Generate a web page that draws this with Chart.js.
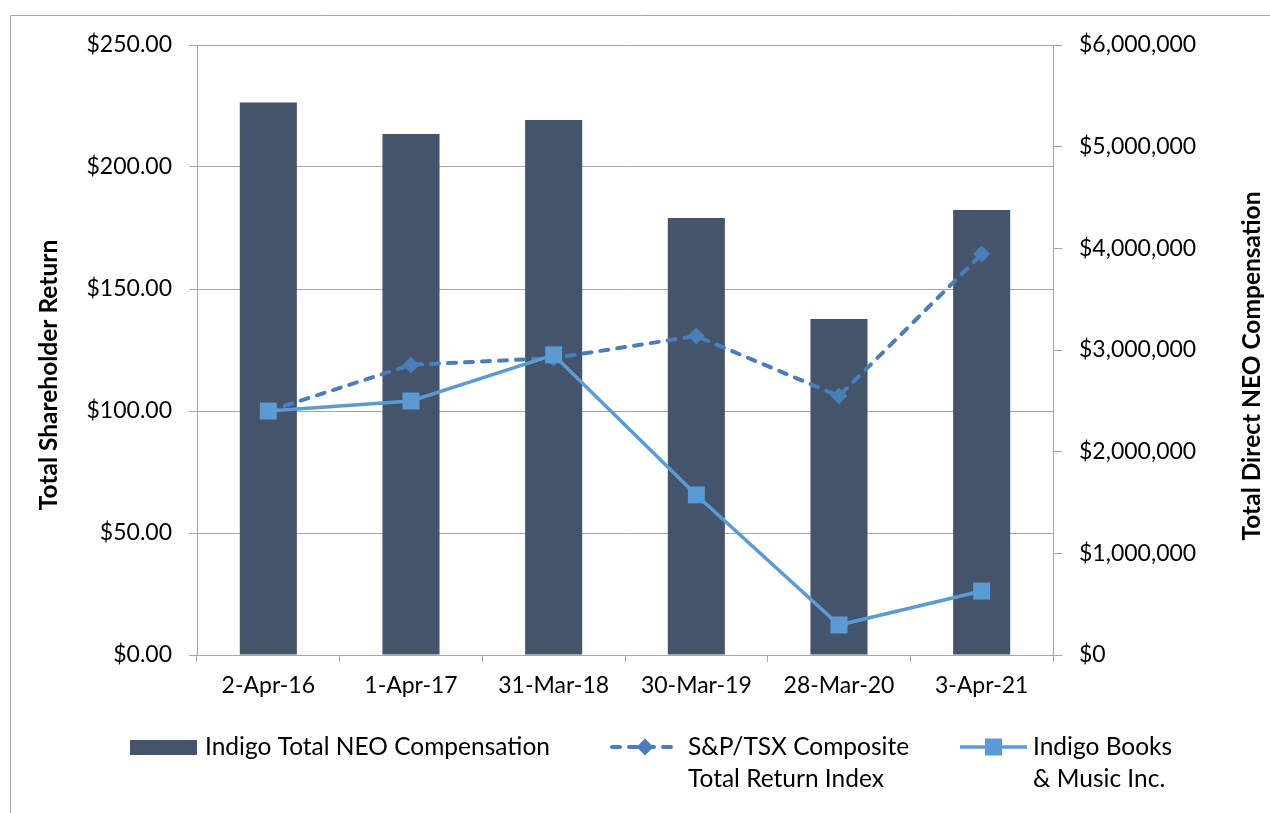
<!DOCTYPE html>
<html>
<head>
<meta charset="utf-8">
<style>
  html, body { margin: 0; padding: 0; background: #fff; }
  #wrap { width: 1270px; height: 813px; position: relative; }
</style>
<script src="https://cdn.jsdelivr.net/npm/chart.js@4.4.0/dist/chart.umd.min.js"></script>
</head>
<body>
<div id="wrap"><canvas id="tsrChart" width="1270" height="813"></canvas></div>
<script>
// data
const dates = ['2-Apr-16', '1-Apr-17', '31-Mar-18', '30-Mar-19', '28-Mar-20', '3-Apr-21'];
const neoComp = [5435000, 5125000, 5262000, 4298000, 3305000, 4378000];
const spTsx = [100, 118.9, 121.7, 130.7, 106.1, 164.3];
const indigo = [100, 104.1, 123.0, 65.6, 12.3, 26.2];

const leftTicks = { min: 0, max: 250, step: 50 };
const rightTicks = { min: 0, max: 6000000, step: 1000000 };

const FONT = 'Lato, "Open Sans", sans-serif';
const BAR_COLOR = '#44546A';
const SP_COLOR = '#4A7EBB';
const IND_COLOR = '#5B9BD5';
const GRID = '#A6A6A6';

// titles, legend and outer frame drawn by hand
const extras = {
    id: 'extras',
    afterDraw(chart) {
        const ctx = chart.ctx;
        ctx.save();

        // outer frame (top + left only visible)
        ctx.strokeStyle = GRID;
        ctx.lineWidth = 1;
        ctx.beginPath();
        ctx.moveTo(10.5, 813);
        ctx.lineTo(10.5, 15.5);
        ctx.lineTo(1270, 15.5);
        ctx.stroke();

        // axis titles
        ctx.fillStyle = '#000';
        ctx.textAlign = 'center';
        ctx.textBaseline = 'middle';
        ctx.save();
        ctx.font = 'bold 24.5px ' + FONT;
        ctx.translate(49, 375);
        ctx.rotate(-Math.PI / 2);
        ctx.fillText('Total Shareholder Return', 0, 0);
        ctx.restore();
        ctx.save();
        ctx.font = 'bold 24.5px ' + FONT;
        ctx.translate(1252, 366);
        ctx.rotate(-Math.PI / 2);
        ctx.fillText('Total Direct NEO Compensation', 0, 0);
        ctx.restore();

        // legend
        const ly = 747;
        ctx.font = '24.5px ' + FONT;
        ctx.textAlign = 'left';
        ctx.fillStyle = BAR_COLOR;
        ctx.fillRect(130, 740, 67, 15);
        ctx.fillStyle = '#000';
        ctx.fillText('Indigo Total NEO Compensation', 205, ly);

        ctx.strokeStyle = SP_COLOR;
        ctx.lineWidth = 4;
        ctx.lineCap = 'round';
        ctx.setLineDash([8, 9]);
        ctx.beginPath();
        ctx.moveTo(612, ly);
        ctx.lineTo(680, ly);
        ctx.stroke();
        ctx.setLineDash([]);
        ctx.fillStyle = SP_COLOR;
        ctx.beginPath();
        ctx.moveTo(645, ly - 8.5);
        ctx.lineTo(653.5, ly);
        ctx.lineTo(645, ly + 8.5);
        ctx.lineTo(636.5, ly);
        ctx.closePath();
        ctx.fill();
        ctx.fillStyle = '#000';
        ctx.fillText('S&P/TSX Composite', 688, ly);
        ctx.fillText('Total Return Index', 688, ly + 32);

        ctx.strokeStyle = IND_COLOR;
        ctx.lineWidth = 3.5;
        ctx.lineCap = 'butt';
        ctx.beginPath();
        ctx.moveTo(960, ly);
        ctx.lineTo(1027, ly);
        ctx.stroke();
        ctx.fillStyle = IND_COLOR;
        ctx.fillRect(985, ly - 8.5, 17, 17);
        ctx.fillStyle = '#000';
        ctx.fillText('Indigo Books', 1033, ly);
        ctx.fillText('& Music Inc.', 1033, ly + 32);

        ctx.restore();
    }
};

const ctx = document.getElementById('tsrChart').getContext('2d');
const myChart = new Chart(ctx, {
    data: {
        labels: dates,
        datasets: [
            {
                type: 'line',
                label: 'Indigo Books & Music Inc.',
                data: indigo,
                yAxisID: 'y',
                borderColor: IND_COLOR,
                backgroundColor: IND_COLOR,
                borderWidth: 3.5,
                pointStyle: 'rect',
                pointRadius: 12,
                pointBorderWidth: 0,
                tension: 0,
                order: 1
            },
            {
                type: 'line',
                label: 'S&P/TSX Composite Total Return Index',
                data: spTsx,
                yAxisID: 'y',
                borderColor: SP_COLOR,
                backgroundColor: SP_COLOR,
                borderWidth: 4,
                borderDash: [8, 9],
                borderCapStyle: 'round',
                pointStyle: 'rectRot',
                pointRadius: 8.5,
                pointBorderWidth: 0,
                tension: 0,
                order: 2
            },
            {
                type: 'bar',
                label: 'Indigo Total NEO Compensation',
                data: neoComp,
                yAxisID: 'y1',
                backgroundColor: BAR_COLOR,
                barPercentage: 0.4,
                categoryPercentage: 1,
                order: 3
            }
        ]
    },
    options: {
        responsive: false,
        animation: false,
        layout: { padding: { left: 10, top: 45, right: 0, bottom: 0 } },
        plugins: {
            legend: { display: false },
            tooltip: { enabled: false }
        },
        scales: {
            x: {
                offset: true,
                border: { color: GRID, width: 1 },
                grid: { drawOnChartArea: false, drawTicks: true, tickLength: 7, color: GRID, offset: true },
                ticks: { color: '#000', font: { family: FONT, size: 23 }, padding: 10, maxRotation: 0 },
                afterFit: s => { s.height = 158; }
            },
            y: {
                position: 'left',
                min: leftTicks.min,
                max: leftTicks.max,
                border: { color: GRID, width: 1 },
                grid: { color: GRID, tickLength: 8 },
                ticks: {
                    stepSize: leftTicks.step,
                    color: '#000',
                    font: { family: FONT, size: 23 },
                    padding: 17,
                    callback: v => '$' + v.toFixed(2)
                },
                afterFit: s => { s.width = 187; }
            },
            y1: {
                position: 'right',
                min: rightTicks.min,
                max: rightTicks.max,
                border: { color: GRID, width: 1 },
                grid: { drawOnChartArea: false, color: GRID, tickLength: 9 },
                ticks: {
                    stepSize: rightTicks.step,
                    color: '#000',
                    font: { family: FONT, size: 23 },
                    padding: 17,
                    callback: v => '$' + v.toLocaleString('en-US')
                },
                afterFit: s => { s.width = 217; }
            }
        }
    },
    plugins: [extras]
});
</script>
</body>
</html>
